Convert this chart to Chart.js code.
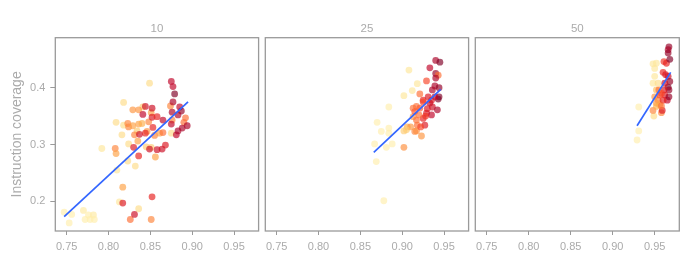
<!DOCTYPE html>
<html><head><meta charset="utf-8">
<script src="https://cdn.jsdelivr.net/npm/chart.js@4/dist/chart.umd.min.js"></script>
<style>
html,body{margin:0;padding:0;background:#fff;width:700px;height:270px;overflow:hidden}
canvas{position:absolute;top:0}
</style></head><body>
<canvas id="c1" style="left:0px" width="262" height="270"></canvas>
<canvas id="c2" style="left:245px" width="227" height="270"></canvas>
<canvas id="c3" style="left:455px" width="245" height="270"></canvas>
<script>
const panelTitles = ['10', '25', '50'];
const xTicks = [0.75, 0.80, 0.85, 0.90, 0.95];
const yTicks = [0.2, 0.3, 0.4];
const xLimits = [0.7364, 0.9793];
const yLimits = [0.1478, 0.488];
const yTitle = 'Instruction coverage';

const p10x = [0.747,0.753,0.756,0.770,0.772,0.776,0.778,0.782,0.783,0.792,0.809,0.818,0.810,0.813,0.818,0.816,0.823,0.824,0.832,0.836,0.849,0.841,0.834,0.845,0.851,0.856,0.875,
  0.808,0.809,0.817,0.823,0.824,0.829,0.829,0.831,0.836,0.836,0.840,0.835,0.826,0.851,0.851,0.848,0.855,0.861,0.865,0.874,0.876,0.890,0.892,0.846,
  0.817,0.852,0.831,0.830,0.836,0.837,0.844,0.844,0.841,0.852,0.852,0.858,0.853,0.849,0.858,0.864,0.868,0.865,0.875,0.877,0.879,0.877,0.876,0.875,0.881,0.883,0.888,0.894,0.885,0.887,0.883];
const p10y = [0.181,0.162,0.177,0.184,0.168,0.176,0.168,0.176,0.168,0.293,0.339,0.374,0.255,0.199,0.334,0.317,0.271,0.301,0.262,0.187,0.408,0.366,0.324,0.296,0.295,0.278,0.320,
  0.293,0.284,0.225,0.337,0.331,0.333,0.361,0.317,0.361,0.336,0.337,0.306,0.168,0.168,0.356,0.340,0.316,0.320,0.321,0.368,0.343,0.339,0.347,0.323,
  0.197,0.208,0.177,0.295,0.280,0.318,0.320,0.367,0.353,0.364,0.348,0.349,0.330,0.292,0.291,0.292,0.299,0.343,0.411,0.402,0.389,0.375,0.357,0.336,0.317,0.324,0.329,0.333,0.366,0.359,0.352];
const p10c = [0.05,0.05,0.05,0.08,0.05,0.05,0.05,0.08,0.05,0.1,0.15,0.15,0.1,0.1,0.15,0.15,0.15,0.15,0.15,0.15,0.15,0.2,0.2,0.2,0.2,0.35,0.15,
  0.45,0.35,0.35,0.45,0.45,0.35,0.4,0.45,0.4,0.35,0.3,0.35,0.5,0.45,0.35,0.45,0.45,0.35,0.5,0.45,0.45,0.5,0.5,0.4,
  0.75,0.7,0.8,0.75,0.7,0.8,0.7,0.8,0.85,0.8,0.75,0.7,0.7,0.8,0.8,0.8,0.75,0.85,0.85,0.85,1.0,0.9,0.9,0.85,0.85,0.9,0.9,0.9,0.85,0.95,0.9];

const p25x = [0.908,0.918,0.912,0.902,0.884,0.870,0.875,0.884,0.884,0.867,0.881,0.888,0.869,0.878,0.902,0.902,0.906,0.923,0.913,0.915,
  0.917,0.921,0.925,0.929,0.933,0.940,0.945,0.940,0.943,0.939,0.944,0.944,0.943,0.939,0.931,0.935,0.936,0.930,0.942,0.929,
  0.935,0.925,0.917,0.918,0.927,0.917,0.922,0.921,0.913,0.925,0.915,0.920,0.928,0.910,0.905,0.933,0.936,0.940];
const p25y = [0.431,0.407,0.395,0.386,0.366,0.339,0.323,0.329,0.320,0.301,0.295,0.301,0.270,0.201,0.295,0.324,0.331,0.315,0.349,0.323,
  0.367,0.389,0.378,0.412,0.435,0.448,0.445,0.425,0.422,0.403,0.400,0.384,0.380,0.384,0.384,0.378,0.366,0.363,0.361,0.355,
  0.352,0.346,0.343,0.334,0.334,0.324,0.331,0.364,0.364,0.375,0.358,0.352,0.350,0.331,0.326,0.373,0.396,0.417];
const p25c = [0.1,0.1,0.1,0.1,0.05,0.05,0.05,0.05,0.05,0.05,0.05,0.05,0.05,0.05,0.42,0.2,0.3,0.4,0.4,0.45,
  0.5,0.5,0.7,0.6,0.85,0.9,1.0,0.95,0.5,0.9,0.95,1.0,1.0,0.85,0.75,0.75,0.8,0.75,0.9,0.75,
  0.85,0.7,0.5,0.5,0.75,0.42,0.6,0.55,0.5,0.6,0.55,0.5,0.65,0.4,0.2,0.8,0.9,0.9];

const p50x = [0.929,0.931,0.931,0.949,0.948,0.948,0.952,0.950,0.950,0.948,0.954,0.952,0.950,0.954,0.952,0.956,0.958,0.959,0.961,0.964,
  0.967,0.966,0.966,0.968,0.960,0.963,0.966,0.968,0.966,0.967,0.961,0.962,0.965,0.960,0.955,0.956,0.967,0.962,0.958,0.952,0.958];
const p50y = [0.308,0.324,0.366,0.350,0.360,0.442,0.443,0.434,0.420,0.408,0.408,0.396,0.384,0.378,0.373,0.370,0.356,0.360,0.446,0.443,
  0.472,0.467,0.461,0.450,0.427,0.423,0.420,0.411,0.401,0.396,0.396,0.387,0.378,0.378,0.396,0.387,0.384,0.408,0.390,0.367,0.368];
const p50c = [0.05,0.05,0.05,0.15,0.45,0.1,0.1,0.1,0.1,0.1,0.15,0.25,0.4,0.45,0.4,0.35,0.45,0.75,0.65,0.7,
  0.95,0.9,0.95,1.0,0.7,0.75,0.8,0.95,1.0,0.95,0.75,0.75,0.85,0.7,0.5,0.6,0.95,0.8,0.6,0.3,0.5];

const fit10x = [0.747, 0.895], fit10y = [0.173, 0.375];
const fit25x = [0.866, 0.946], fit25y = [0.286, 0.397];
const fit50x = [0.929, 0.969], fit50y = [0.333, 0.427];

const pal = [[255,248,190],[254,222,140],[254,178,76],[253,141,60],[252,78,42],[227,26,28],[189,0,38],[128,0,38]];
function col(c) {
  const t = c * (pal.length - 1);
  const i = Math.min(Math.floor(t), pal.length - 2);
  const f = t - i, a = pal[i], b = pal[i + 1];
  const m = k => Math.round(a[k] + (b[k] - a[k]) * f);
  return `rgba(${m(0)},${m(1)},${m(2)},0.66)`;
}

const GRAY_TXT = '#ababab';
const FONT = '"Liberation Sans", Arial, sans-serif';

function framePlugin(title) {
  return {
    id: 'frame',
    afterDraw(chart) {
      const a = chart.chartArea, ctx = chart.ctx;
      ctx.save();
      ctx.strokeStyle = '#9a9a9a';
      ctx.lineWidth = 1.3;
      ctx.strokeRect(a.left, a.top, a.right - a.left, a.bottom - a.top);
      ctx.fillStyle = GRAY_TXT;
      ctx.font = '11.5px ' + FONT;
      ctx.textAlign = 'center';
      ctx.textBaseline = 'middle';
      ctx.fillText(title, (a.left + a.right) / 2, a.top - 9);
      ctx.restore();
    }
  };
}

function makeChart(id, title, xs, ys, cs, fx, fy, showY, padL, padR) {
  new Chart(document.getElementById(id), {
    type: 'scatter',
    data: {
      datasets: [
        { type: 'line', data: fx.map((x, i) => ({ x, y: fy[i] })), borderColor: '#3366FF', borderWidth: 1.7,
          pointRadius: 0, fill: false, tension: 0 },
        { data: xs.map((x, i) => ({ x, y: ys[i] })), backgroundColor: cs.map(col), borderWidth: 0,
          pointRadius: 3.4, pointHoverRadius: 3.4 }
      ]
    },
    options: {
      responsive: false, animation: false, devicePixelRatio: 1,
      layout: { padding: { left: padL, right: padR, top: 37.7, bottom: 0 } },
      plugins: { legend: { display: false }, tooltip: { enabled: false }, title: { display: false } },
      scales: {
        x: {
          type: 'linear', min: xLimits[0], max: xLimits[1],
          afterBuildTicks: s => { s.ticks = xTicks.map(v => ({ value: v })); },
          afterFit: s => { s.height = 39; },
          grid: { display: true, drawOnChartArea: false, drawTicks: true, tickLength: 4, color: '#9a9a9a', lineWidth: 1 },
          border: { display: false },
          ticks: { color: GRAY_TXT, font: { family: FONT, size: 11 }, padding: 5, maxRotation: 0, autoSkip: false,
                   callback: v => Number(v).toFixed(2) }
        },
        y: {
          type: 'linear', min: yLimits[0], max: yLimits[1], display: showY,
          afterBuildTicks: s => { s.ticks = yTicks.map(v => ({ value: v })); },
          afterFit: s => { s.width = showY ? 55.3 : 0; },
          grid: { display: true, drawOnChartArea: false, drawTicks: true, tickLength: 5, color: '#9a9a9a', lineWidth: 1 },
          border: { display: false },
          ticks: { color: GRAY_TXT, font: { family: FONT, size: 11 }, padding: 5, autoSkip: false,
                   callback: v => Number(v).toFixed(1) },
          title: { display: true, text: yTitle, color: GRAY_TXT, font: { family: FONT, size: 14 }, padding: { top: 9, bottom: 0 } }
        }
      }
    },
    plugins: [framePlugin(title)]
  });
}

makeChart('c1', panelTitles[0], p10x, p10y, p10c, fit10x, fit10y, true, 0, 2.7);
makeChart('c2', panelTitles[1], p25x, p25y, p25c, fit25x, fit25y, false, 20.3, 2.7);
makeChart('c3', panelTitles[2], p50x, p50y, p50c, fit50x, fit50y, false, 20.3, 20.7);
</script>
</body></html>
